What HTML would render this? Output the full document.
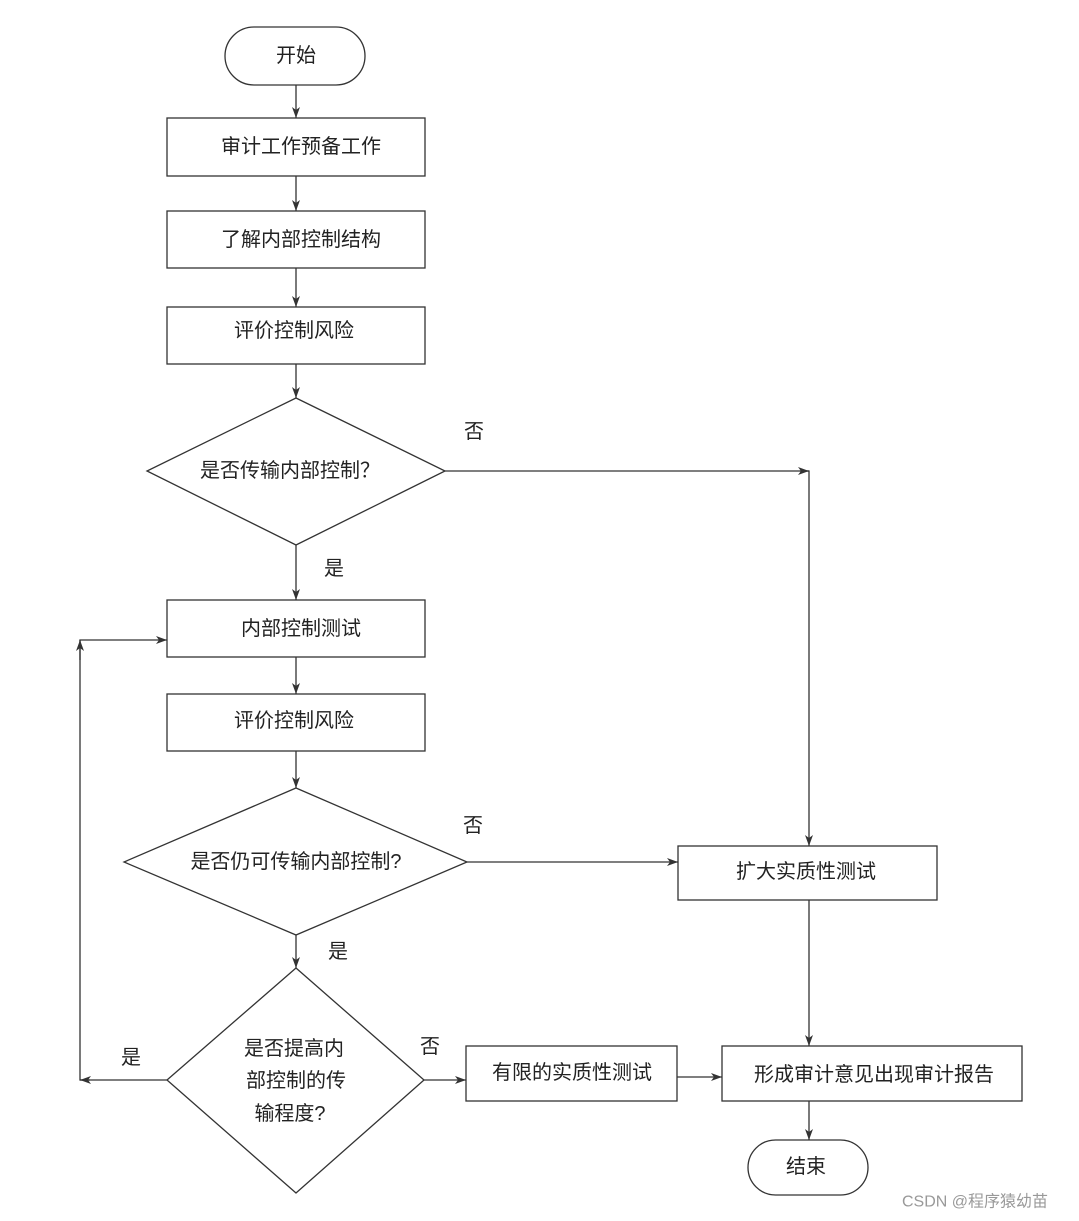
<!DOCTYPE html>
<html><head><meta charset="utf-8"><style>
html,body{margin:0;padding:0;background:#fff;}
svg{display:block;}
text{font-family:"Liberation Sans","Noto Sans CJK SC",sans-serif;font-size:20px;fill:#222;}
</style></head><body>
<svg width="1079" height="1221" viewBox="0 0 1079 1221" xmlns="http://www.w3.org/2000/svg">
<defs>
<marker id="a" markerWidth="12" markerHeight="8" refX="11" refY="4" orient="auto" markerUnits="userSpaceOnUse">
<path d="M0,0 L11,4 L0,8 L3,4 Z" fill="#333"/>
</marker>
</defs>
<g stroke="#333" stroke-width="1.3" fill="none">
<rect x="225" y="27" width="140" height="58" rx="29"/>
<rect x="167" y="118" width="258" height="58"/>
<rect x="167" y="211" width="258" height="57"/>
<rect x="167" y="307" width="258" height="57"/>
<polygon points="296,398 445,471 296,545 147,471"/>
<rect x="167" y="600" width="258" height="57"/>
<rect x="167" y="694" width="258" height="57"/>
<polygon points="296,788 467,862 296,935 124,862"/>
<rect x="678" y="846" width="259" height="54"/>
<polygon points="296,968 424,1080 296,1193 167,1080"/>
<rect x="466" y="1046" width="211" height="55"/>
<rect x="722" y="1046" width="300" height="55"/>
<rect x="748" y="1140" width="120" height="55" rx="27.5"/>

<line x1="296" y1="85" x2="296" y2="118" marker-end="url(#a)"/>
<line x1="296" y1="176" x2="296" y2="211" marker-end="url(#a)"/>
<line x1="296" y1="268" x2="296" y2="307" marker-end="url(#a)"/>
<line x1="296" y1="364" x2="296" y2="398" marker-end="url(#a)"/>
<line x1="296" y1="545" x2="296" y2="600" marker-end="url(#a)"/>
<line x1="296" y1="657" x2="296" y2="694" marker-end="url(#a)"/>
<line x1="296" y1="751" x2="296" y2="788" marker-end="url(#a)"/>
<line x1="296" y1="935" x2="296" y2="968" marker-end="url(#a)"/>
<polyline points="445,471 809,471 809,846" marker-end="url(#a)"/>
<line x1="800" y1="471" x2="809" y2="471" marker-end="url(#a)"/>
<line x1="467" y1="862" x2="678" y2="862" marker-end="url(#a)"/>
<polyline points="167,1080 80,1080 80,640 167,640" marker-end="url(#a)"/>
<line x1="90" y1="1080" x2="80" y2="1080" marker-end="url(#a)"/>
<line x1="80" y1="660" x2="80" y2="640" marker-end="url(#a)"/>
<line x1="424" y1="1080" x2="466" y2="1080" marker-end="url(#a)"/>
<line x1="677" y1="1077" x2="722" y2="1077" marker-end="url(#a)"/>
<line x1="809" y1="900" x2="809" y2="1046" marker-end="url(#a)"/>
<line x1="809" y1="1101" x2="809" y2="1140" marker-end="url(#a)"/>
</g>
<g text-anchor="middle" dominant-baseline="central">
<text x="296" y="56">开始</text>
<text x="301" y="147">审计工作预备工作</text>
<text x="301" y="240">了解内部控制结构</text>
<text x="294" y="331">评价控制风险</text>
<text x="290" y="471">是否传输内部控制？</text>
<text x="474" y="432">否</text>
<text x="334" y="569">是</text>
<text x="301" y="629">内部控制测试</text>
<text x="294" y="721">评价控制风险</text>
<text x="296" y="862">是否仍可传输内部控制?</text>
<text x="473" y="826">否</text>
<text x="338" y="952">是</text>
<text x="806" y="872">扩大实质性测试</text>
<text x="294" y="1049">是否提高内</text>
<text x="296" y="1081">部控制的传</text>
<text x="290" y="1114">输程度?</text>
<text x="131" y="1058">是</text>
<text x="430" y="1047">否</text>
<text x="572" y="1073">有限的实质性测试</text>
<text x="874" y="1075">形成审计意见出现审计报告</text>
<text x="806" y="1167">结束</text>
<text x="975" y="1202" style="font-size:16px;fill:#999">CSDN @程序猿幼苗</text>
</g>
</svg>
</body></html>
